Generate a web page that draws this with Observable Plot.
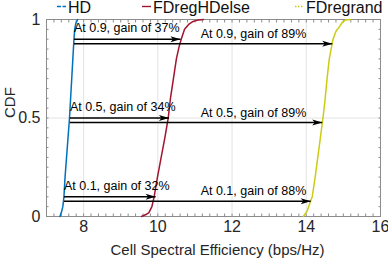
<!DOCTYPE html>
<html>
<head>
<meta charset="utf-8">
<script src="https://cdn.jsdelivr.net/npm/d3@7"></script>
<script src="https://cdn.jsdelivr.net/npm/@observablehq/plot@0.6"></script>
<style>
  html, body { margin: 0; padding: 0; background: #fff; }
  #wrap { position: relative; width: 388px; height: 261px; font-family: "Liberation Sans", Arial, sans-serif; }
  #legend { position: absolute; left: 0; top: 0; width: 388px; height: 18px; }
  .item { position: absolute; top: 0; height: 16px; font-size: 16px; line-height: 16px; color: #111; white-space: nowrap; }
  .item svg { position: absolute; top: 0; }
  .item span { position: absolute; top: 0; }
</style>
</head>
<body>
<div id="wrap"><div id="legend"></div></div>
<script>
// ---- data ----
const seriesNames = ["HD", "FDregHDelse", "FDregrand"];
const seriesColors = ["#0072BD", "#A2142F", "#CCCC14"];

const hdX = [7.36, 7.40, 7.44, 7.47, 7.50, 7.54, 7.58, 7.62, 7.65, 7.68, 7.71, 7.74, 7.76, 7.79, 7.84];
const hdY = [0, 0.02, 0.05, 0.1, 0.2, 0.3, 0.4, 0.5, 0.6, 0.7, 0.8, 0.9, 0.95, 0.98, 1];

const fdHDX = [9.56, 9.68, 9.76, 9.84, 9.90, 9.99, 10.09, 10.19, 10.28, 10.34, 10.42, 10.50, 10.57, 10.63, 10.72, 10.83, 10.95, 11.10, 11.23];
const fdHDY = [0, 0.01, 0.02, 0.05, 0.1, 0.2, 0.3, 0.4, 0.5, 0.6, 0.7, 0.8, 0.86, 0.9, 0.95, 0.975, 0.99, 0.998, 1];

const fdRandX = [13.92, 14.03, 14.10, 14.16, 14.24, 14.31, 14.38, 14.45, 14.51, 14.56, 14.62, 14.72, 14.80, 14.88, 14.97, 15.05, 15.19];
const fdRandY = [0, 0.03, 0.07, 0.1, 0.2, 0.3, 0.4, 0.5, 0.6, 0.7, 0.8, 0.9, 0.94, 0.96, 0.985, 0.997, 1];

const levels = [0.1, 0.5, 0.9];
const hdAt = [7.47, 7.63, 7.74];
const fdHDAt = [9.94, 10.30, 10.61];
const fdRandAt = [14.12, 14.43, 14.70];
const gainShort = [32, 34, 37];
const gainLong = [88, 89, 89];

const xTicks = [8, 10, 12, 14, 16];
const yTicks = [0, 0.5, 1];
const yTickLabels = ["0", "0.5", "1"];
const xLabel = "Cell Spectral Efficiency (bps/Hz)";
const yLabel = "CDF";

// ---- build tables ----
const curves = [
  ...hdX.map((x, i) => ({series: seriesNames[0], x, y: hdY[i]})),
  ...fdHDX.map((x, i) => ({series: seriesNames[1], x, y: fdHDY[i]})),
  ...fdRandX.map((x, i) => ({series: seriesNames[2], x, y: fdRandY[i]}))
];
const ann = levels.map((lv, i) => ({
  lv, x0: hdAt[i], x1: fdHDAt[i], x2: fdRandAt[i],
  t1: `At ${lv}, gain of ${gainShort[i]}%`,
  t2: `At ${lv}, gain of ${gainLong[i]}%`
}));

// stealth arrowhead pointing right, tip at origin
const stealth = {
  draw(ctx, size) {
    const r = Math.sqrt(size / Math.PI);
    const L = 2.5 * r, W = 0.75 * r;
    ctx.moveTo(0, 0);
    ctx.lineTo(-L, -W);
    ctx.lineTo(-0.75 * L, 0);
    ctx.lineTo(-L, W);
    ctx.closePath();
  }
};

const xMinor = d3.range(7, 16.001, 0.2);
const yMinor = d3.range(0, 1.0001, 0.05);
const axisColor = "#8c8c8c";
const longDy = 4.5;

const chart = Plot.plot({
  width: 388,
  height: 261,
  marginLeft: 46,
  marginRight: 8,
  marginTop: 19,
  marginBottom: 45,
  style: {fontFamily: "Liberation Sans, Arial, sans-serif", background: "transparent", color: "#222"},
  x: {domain: [7, 16]},
  y: {domain: [0, 1]},
  color: {domain: seriesNames, range: seriesColors},
  marks: [
    Plot.gridX([8, 10, 12, 14], {stroke: "#e3e3e3", strokeOpacity: 1}),
    Plot.gridY([0.5], {stroke: "#e3e3e3", strokeOpacity: 1}),
    Plot.axisX(xMinor, {anchor: "bottom", tickSize: -2.5, text: null, stroke: axisColor, label: null}),
    Plot.axisX(xMinor, {anchor: "top", tickSize: -2.5, text: null, stroke: axisColor, label: null}),
    Plot.axisY(yMinor, {anchor: "left", tickSize: -2.5, text: null, stroke: axisColor, label: null}),
    Plot.axisY(yMinor, {anchor: "right", tickSize: -2.5, text: null, stroke: axisColor, label: null}),
    Plot.axisX(xTicks, {anchor: "bottom", tickSize: 0, tickPadding: 4, fontSize: 16, label: null, fill: "#262626"}),
    Plot.axisY(yTicks, {anchor: "left", tickSize: 0, tickPadding: 6, fontSize: 16, label: null, fill: "#262626",
      tickFormat: (d) => yTickLabels[yTicks.indexOf(d)]}),
    Plot.frame({stroke: axisColor}),
    Plot.line(curves, {x: "x", y: "y", z: "series", stroke: "series", strokeWidth: 1.5}),
    // short arrows
    Plot.link(ann, {x1: "x0", x2: "x1", y1: "lv", y2: "lv", stroke: "black", strokeWidth: 1.4}),
    Plot.dot(ann, {x: "x1", y: "lv", symbol: stealth, r: 4, fill: "black", stroke: "none"}),
    // long arrows
    Plot.link(ann, {x1: "x0", x2: "x2", y1: "lv", y2: "lv", dy: longDy, stroke: "black", strokeWidth: 1.4}),
    Plot.dot(ann, {x: "x2", y: "lv", dy: longDy, symbol: stealth, r: 4, fill: "black", stroke: "none"}),
    Plot.text(ann, {x: "x0", y: "lv", text: "t1", textAnchor: "start", lineAnchor: "middle", dy: -11, fontSize: 12.5, fill: "black"}),
    Plot.text(ann, {x: () => 14, y: "lv", text: "t2", textAnchor: "end", lineAnchor: "middle", dy: -5.5, fontSize: 12.5, fill: "black"}),
    Plot.text([xLabel], {frameAnchor: "bottom", text: (d) => d, dy: 34, dx: 4, lineAnchor: "middle", fontSize: 15, fill: "#262626"}),
    Plot.text([yLabel], {frameAnchor: "left", text: (d) => d, dx: -36, rotate: -90, lineAnchor: "middle", fontSize: 15, fill: "#262626"})
  ]
});
document.getElementById("wrap").appendChild(chart);

// legend (HTML overlay above the plot frame)
const legendLeft = [57, 142, 295];
const dashes = ["4,1.5", null, "1.5,1.5"];
const legend = document.getElementById("legend");
seriesNames.forEach((name, i) => {
  const item = document.createElement("div");
  item.className = "item";
  item.style.left = legendLeft[i] + "px";
  const dash = dashes[i] ? `stroke-dasharray="${dashes[i]}"` : "";
  item.innerHTML = `<svg width="10" height="12"><line x1="0" x2="9" y1="6.5" y2="6.5" stroke="${seriesColors[i]}" stroke-width="1.4" ${dash}/></svg><span style="left:11px">${name}</span>`;
  legend.appendChild(item);
});
</script>
</body>
</html>
